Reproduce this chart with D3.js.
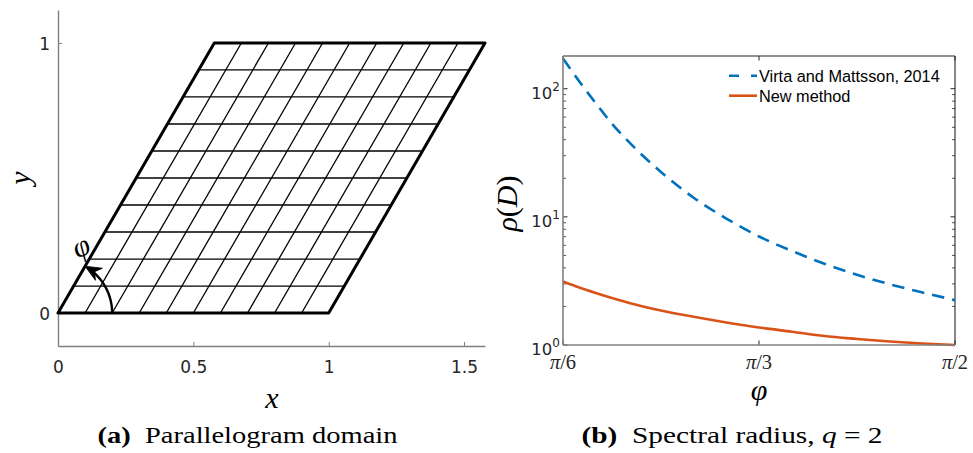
<!DOCTYPE html>
<html>
<head>
<meta charset="utf-8">
<script src="https://cdn.jsdelivr.net/npm/d3@7"></script>
<style>
  html, body { margin: 0; padding: 0; background: #fff; }
  svg { display: block; }
  .sans { font-family: "Liberation Sans", Arial, sans-serif; }
  .tick-sans { font-family: "DejaVu Sans", sans-serif; }
  .serif { font-family: "Liberation Serif", "DejaVu Serif", serif; }
</style>
</head>
<body>
<svg id="chart" width="973" height="453"></svg>
<script>
// ---------------- data ----------------
// (a) parallelogram domain
const gridCells = 10;               // cells per direction
const skewAngleDeg = 60;            // angle phi of the parallelogram
const arcRadius = 0.2;              // radius of the phi arrow
const xTicksA = [0, 0.5, 1, 1.5];
const yTicksA = [0, 1];

// (b) spectral radius vs phi (degrees)
const phiDeg = [30, 32.5, 35, 37.5, 40, 45, 50, 55, 60, 65, 70, 75, 80, 85, 90];
const rhoVirta = [172, 113.8, 77.3, 53.3, 38.8, 22.4, 14.1, 9.7, 7.03, 5.43, 4.31, 3.53, 2.98, 2.57, 2.24];
const rhoNew   = [3.13, 2.81, 2.55, 2.33, 2.14, 1.86, 1.66, 1.50, 1.37, 1.27, 1.175, 1.115, 1.065, 1.027, 1.00];
const seriesNames = ["Virta and Mattsson, 2014", "New method"];
const xTickLabelsB = [["π", "/6"], ["π", "/3"], ["π", "/2"]];
const xTicksB = [Math.PI / 6, Math.PI / 3, Math.PI / 2];
const yMajorB = [1, 10, 100];
const yExpB = ["0", "1", "2"];

// ---------------- drawing ----------------
const svg = d3.select("#chart");
const axisGray = "#808080";
const dark = "#262626";
const blue = "#0072BD";
const orange = "#D95319";

// ===== Panel (a) =====
const cotPhi = 1 / Math.tan(skewAngleDeg * Math.PI / 180);
const xA = d3.scaleLinear().domain([0, 1 + cotPhi]).range([58, 485]);
const yA = d3.scaleLinear().domain([-0.122, 1.122]).range([346, 10]);
const gA = svg.append("g");

// axes
const axA_x = gA.append("g").attr("transform", `translate(0,${yA.range()[0]})`)
  .call(d3.axisBottom(xA).tickValues(xTicksA).tickSize(-4).tickSizeOuter(0).tickFormat(d => String(d)));
const axA_y = gA.append("g").attr("transform", `translate(${xA.range()[0]},0)`)
  .call(d3.axisLeft(yA).tickValues(yTicksA).tickSize(-4).tickSizeOuter(0).tickFormat(d => String(d)));
[axA_x, axA_y].forEach(ax => {
  ax.attr("font-family", null).attr("font-size", null);
  ax.select(".domain").attr("stroke", axisGray).attr("stroke-width", 1.4);
  ax.selectAll(".tick line").attr("stroke", axisGray).attr("stroke-width", 1);
  ax.selectAll(".tick text").attr("fill", dark).attr("class", "tick-sans").attr("font-size", 17);
});
axA_x.selectAll(".tick text").attr("y", 27).attr("dy", 0);
axA_y.selectAll(".tick text").attr("x", -8).attr("dy", "0.36em");

// mesh
const rows = d3.range(gridCells + 1).map(j => j / gridCells);
const mesh = gA.append("g");
mesh.selectAll("line.h").data(rows).join("line")
  .attr("x1", t => xA(t * cotPhi)).attr("y1", t => yA(t))
  .attr("x2", t => xA(1 + t * cotPhi)).attr("y2", t => yA(t))
  .attr("stroke", "#000").attr("stroke-width", 1.3);
mesh.selectAll("line.s").data(rows).join("line")
  .attr("x1", s => xA(s)).attr("y1", yA(0))
  .attr("x2", s => xA(s + cotPhi)).attr("y2", yA(1))
  .attr("stroke", "#000").attr("stroke-width", 1.3);
// border
const corners = [[0, 0], [1, 0], [1 + cotPhi, 1], [cotPhi, 1]];
gA.append("path")
  .attr("d", d3.line().x(d => xA(d[0])).y(d => yA(d[1]))(corners) + "Z")
  .attr("fill", "none").attr("stroke", "#000").attr("stroke-width", 3).attr("stroke-linejoin", "round");

// phi arrow
const phiRad = skewAngleDeg * Math.PI / 180;
const rPx = xA(arcRadius) - xA(0);
const headLen = 16, headHalf = 7, notch = 11;
const arcEnd = phiRad - notch / rPx;
const arcPts = d3.range(0, 61).map(i => arcEnd * i / 60).map(t => [arcRadius * Math.cos(t), arcRadius * Math.sin(t)]);
gA.append("path")
  .attr("d", d3.line().x(d => xA(d[0])).y(d => yA(d[1]))(arcPts))
  .attr("fill", "none").attr("stroke", "#000").attr("stroke-width", 2.4);
const tip = [xA(arcRadius * Math.cos(phiRad)), yA(arcRadius * Math.sin(phiRad))];
const dir = [-Math.sin(phiRad), -Math.cos(phiRad)]; // travel direction in screen coords
const nrm = [-dir[1], dir[0]];
const back = [tip[0] - dir[0] * headLen, tip[1] - dir[1] * headLen];
const nb = [tip[0] - dir[0] * notch, tip[1] - dir[1] * notch];
const head = [tip,
  [back[0] + nrm[0] * headHalf, back[1] + nrm[1] * headHalf],
  nb,
  [back[0] - nrm[0] * headHalf, back[1] - nrm[1] * headHalf]];
gA.append("path").attr("d", d3.line()(head) + "Z").attr("fill", "#000").attr("stroke", "#000").attr("stroke-width", 0.8);

gA.append("text").attr("class", "serif")
  .attr("x", 82).attr("y", 256)
  .attr("font-size", 30).attr("font-style", "italic")
  .attr("text-anchor", "middle")
  .attr("transform", "rotate(-25, 82, 249)")
  .text("φ");

// axis labels
gA.append("text").attr("class", "serif").attr("font-size", 30).attr("font-style", "italic")
  .attr("text-anchor", "middle").attr("x", 272).attr("y", 408).text("x");
gA.append("text").attr("class", "serif").attr("font-size", 30).attr("font-style", "italic")
  .attr("text-anchor", "middle").attr("transform", `translate(30,${(yA.range()[0] + yA.range()[1]) / 2}) rotate(-90)`).text("y");

// caption (a)
const capA = gA.append("text").attr("class", "serif").attr("font-size", 23)
  .attr("text-anchor", "middle").attr("x", 247.5).attr("y", 443).attr("fill", "#000")
  .attr("textLength", 300).attr("lengthAdjust", "spacingAndGlyphs");
capA.append("tspan").attr("font-weight", "bold").text("(a)");
capA.append("tspan").text("\u2002Parallelogram domain");

// ===== Panel (b) =====
const xB = d3.scaleLinear().domain([Math.PI / 6, Math.PI / 2]).range([563, 955]);
const yB = d3.scaleLog().domain([1, 180]).range([345, 56]);
const gB = svg.append("g");
const [x0, x1] = xB.range();
const [y0, y1] = yB.range();

// minor ticks
const minorB = [];
yMajorB.forEach(m => d3.range(2, 10).forEach(k => { if (m * k < yB.domain()[1]) minorB.push(m * k); }));

const ticksG = gB.append("g");
ticksG.selectAll("line.ymaj").data(yMajorB).join("line")
  .attr("x1", x0).attr("x2", x0 + 4.5).attr("y1", d => yB(d)).attr("y2", d => yB(d))
  .attr("stroke", dark).attr("stroke-width", 1);
ticksG.selectAll("line.ymajr").data(yMajorB).join("line")
  .attr("x1", x1).attr("x2", x1 - 4.5).attr("y1", d => yB(d)).attr("y2", d => yB(d))
  .attr("stroke", dark).attr("stroke-width", 1);
ticksG.selectAll("line.ymin").data(minorB).join("line")
  .attr("x1", x0).attr("x2", x0 + 3).attr("y1", d => yB(d)).attr("y2", d => yB(d))
  .attr("stroke", dark).attr("stroke-width", 0.8);
ticksG.selectAll("line.yminr").data(minorB).join("line")
  .attr("x1", x1).attr("x2", x1 - 3).attr("y1", d => yB(d)).attr("y2", d => yB(d))
  .attr("stroke", dark).attr("stroke-width", 0.8);
ticksG.selectAll("line.xb").data(xTicksB).join("line")
  .attr("x1", d => xB(d)).attr("x2", d => xB(d)).attr("y1", y0).attr("y2", y0 - 4.5)
  .attr("stroke", dark).attr("stroke-width", 1);
ticksG.selectAll("line.xt").data(xTicksB).join("line")
  .attr("x1", d => xB(d)).attr("x2", d => xB(d)).attr("y1", y1).attr("y2", y1 + 4.5)
  .attr("stroke", dark).attr("stroke-width", 1);

// box
gB.append("line").attr("x1", x0).attr("x2", x1).attr("y1", y1).attr("y2", y1).attr("stroke", dark).attr("stroke-width", 1.1);
gB.append("line").attr("x1", x1).attr("x2", x1).attr("y1", y0).attr("y2", y1).attr("stroke", dark).attr("stroke-width", 1.1);

// curves
const lineB = d3.line().x(d => xB(d[0] * Math.PI / 180)).y(d => yB(d[1])).curve(d3.curveMonotoneX);
svg.append("defs").append("clipPath").attr("id", "clipB").append("rect")
  .attr("x", x0).attr("y", y1).attr("width", x1 - x0).attr("height", y0 - y1);
gB.append("path").attr("d", lineB(phiDeg.map((p, i) => [p, rhoNew[i]])))
  .attr("fill", "none").attr("stroke", orange).attr("stroke-width", 2.6);
gB.append("path").attr("d", lineB(phiDeg.map((p, i) => [p, rhoVirta[i]])))
  .attr("fill", "none").attr("stroke", blue).attr("stroke-width", 2.6).attr("stroke-dasharray", "12.5,8")
  .attr("clip-path", "url(#clipB)");

// left & bottom axis lines (gray)
gB.append("line").attr("x1", x0).attr("x2", x1).attr("y1", y0).attr("y2", y0).attr("stroke", axisGray).attr("stroke-width", 1.6);
gB.append("line").attr("x1", x0).attr("x2", x0).attr("y1", y0).attr("y2", y1).attr("stroke", axisGray).attr("stroke-width", 1.6);

// y tick labels 10^k
yMajorB.forEach((v, i) => {
  const t = gB.append("text").attr("class", "tick-sans").attr("font-size", 16.5).attr("fill", dark)
    .attr("text-anchor", "end").attr("x", x0 - 3).attr("y", yB(v) + 10);
  t.append("tspan").text("10");
  t.append("tspan").attr("font-size", 12).attr("dy", -8).text(yExpB[i]);
});
// x tick labels
xTicksB.forEach((v, i) => {
  const t = gB.append("text").attr("class", "serif").attr("font-size", 20.5).attr("fill", dark)
    .attr("text-anchor", "middle").attr("x", xB(v)).attr("y", 369);
  t.append("tspan").attr("font-style", "italic").text(xTickLabelsB[i][0]);
  t.append("tspan").text(xTickLabelsB[i][1]);
});

// axis labels
gB.append("text").attr("class", "serif").attr("font-size", 30).attr("font-style", "italic")
  .attr("text-anchor", "middle").attr("x", (x0 + x1) / 2).attr("y", 400).text("φ");
const yl = gB.append("text").attr("class", "serif").attr("font-size", 30)
  .attr("text-anchor", "middle").attr("transform", `translate(517,${(y0 + y1) / 2 + 3}) rotate(-90)`);
yl.append("tspan").attr("font-style", "italic").text("ρ");
yl.append("tspan").text("(");
yl.append("tspan").attr("font-style", "italic").text("D");
yl.append("tspan").text(")");

// legend
const legend = gB.append("g");
const legItems = [{ name: seriesNames[0], color: blue, dash: "10,12" }, { name: seriesNames[1], color: orange, dash: null }];
legItems.forEach((it, i) => {
  const yy = 75.7 + i * 20;
  legend.append("line").attr("x1", 729).attr("x2", 757).attr("y1", yy).attr("y2", yy)
    .attr("stroke", it.color).attr("stroke-width", 2.6).attr("stroke-dasharray", it.dash);
  legend.append("text").attr("class", "sans").attr("font-size", 16.3).attr("fill", "#000")
    .attr("x", 759).attr("y", yy + 6).text(it.name);
});

// caption (b)
const capB = gB.append("text").attr("class", "serif").attr("font-size", 23)
  .attr("text-anchor", "middle").attr("x", 732).attr("y", 443).attr("fill", "#000")
  .attr("textLength", 301).attr("lengthAdjust", "spacingAndGlyphs");
capB.append("tspan").attr("font-weight", "bold").text("(b)");
capB.append("tspan").text("\u2002Spectral radius, ");
capB.append("tspan").attr("font-style", "italic").text("q");
capB.append("tspan").text(" = 2");
</script>
</body>
</html>
